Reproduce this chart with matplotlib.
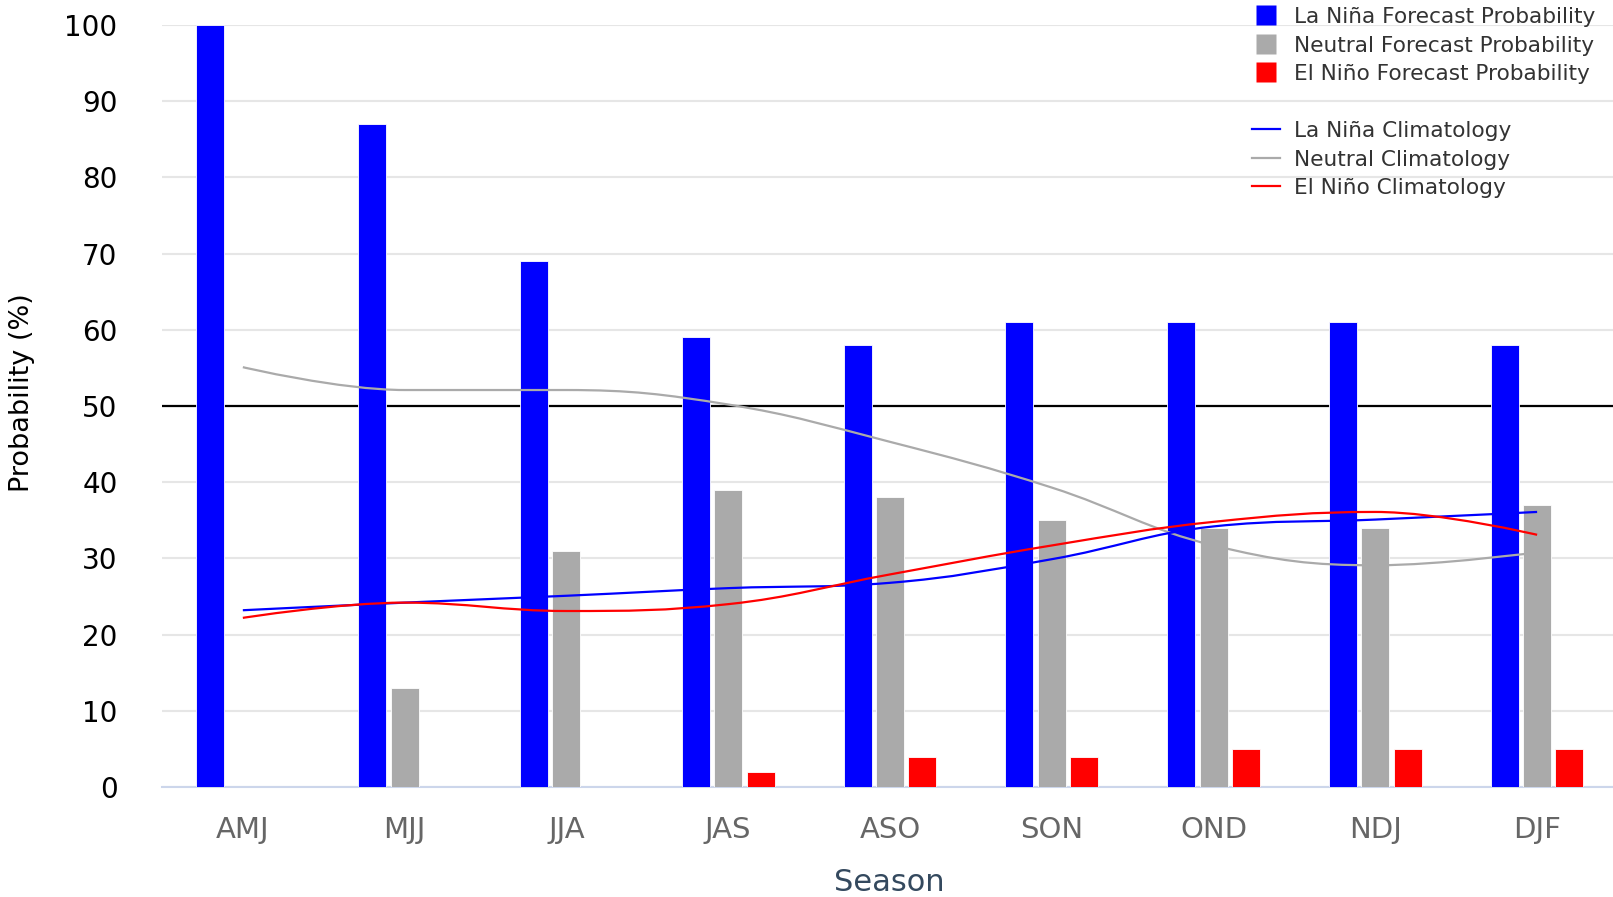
import matplotlib.pyplot as plt
from matplotlib.path import Path
from matplotlib.patches import PathPatch
from matplotlib.lines import Line2D
import numpy as np

seasons = ['AMJ', 'MJJ', 'JJA', 'JAS', 'ASO', 'SON', 'OND', 'NDJ', 'DJF']

# forecast probabilities (%)
lanina_fc = [100, 87, 69, 59, 58, 61, 61, 61, 58]
neutral_fc = [0, 13, 31, 39, 38, 35, 34, 34, 37]
elnino_fc = [0, 0, 0, 2, 4, 4, 5, 5, 5]

# climatology (%)
lanina_clim = [23.2, 24.2, 25.1, 26.1, 26.8, 29.9, 34.2, 35.1, 36.1]
neutral_clim = [55.1, 52.1, 52.1, 50.2, 45.3, 39.3, 31.7, 29.1, 30.8]
elnino_clim = [22.2, 24.2, 23.1, 24.0, 27.9, 31.7, 34.8, 36.1, 33.1]


def spline_path(xs, ys, smoothing=1.5):
    # Highcharts-style spline through the points, drawn as cubic beziers
    n = len(xs)
    left = [None] * n
    right = [None] * n
    for i in range(n):
        x, y = xs[i], ys[i]
        if i == 0 or i == n - 1:
            left[i] = (x, y)
            right[i] = (x, y)
            continue
        lx, ly = xs[i - 1], ys[i - 1]
        nx, ny = xs[i + 1], ys[i + 1]
        d = smoothing + 1
        lcx = (smoothing * x + lx) / d
        lcy = (smoothing * y + ly) / d
        rcx = (smoothing * x + nx) / d
        rcy = (smoothing * y + ny) / d
        if rcx != lcx:
            corr = (rcy - lcy) * (rcx - x) / (rcx - lcx) + y - rcy
            lcy += corr
            rcy += corr
        if lcy > ly and lcy > y:
            lcy = max(ly, y)
            rcy = 2 * y - lcy
        elif lcy < ly and lcy < y:
            lcy = min(ly, y)
            rcy = 2 * y - lcy
        if rcy > ny and rcy > y:
            rcy = max(ny, y)
            lcy = 2 * y - rcy
        elif rcy < ny and rcy < y:
            rcy = min(ny, y)
            lcy = 2 * y - rcy
        left[i] = (lcx, lcy)
        right[i] = (rcx, rcy)
    verts = [(xs[0], ys[0])]
    codes = [Path.MOVETO]
    for i in range(1, n):
        verts += [right[i - 1], left[i], (xs[i], ys[i])]
        codes += [Path.CURVE4] * 3
    return Path(verts, codes)


fig = plt.figure(figsize=(16.13, 8.97), dpi=100)
ax = fig.add_axes([0.1004, 0.1226, 0.9027, 0.8495])

x = np.arange(len(seasons))
w = 0.173
off = 0.2

ax.set_xlim(-0.5, 8.5)
ax.set_ylim(0, 100)

ax.yaxis.grid(True, color='#e6e6e6', linewidth=1.5, zorder=0)
ax.set_axisbelow(True)
ax.axhline(50, color='black', linewidth=1.6, zorder=1)

ax.bar(x - off, lanina_fc, w, color='#0000ff', edgecolor='white', linewidth=0.6, zorder=2)
ax.bar(x, neutral_fc, w, color='#aaaaaa', edgecolor='white', linewidth=0.6, zorder=2)
ax.bar(x + off, elnino_fc, w, color='#ff0000', edgecolor='white', linewidth=0.6, zorder=2)

for vals, col in [(neutral_clim, '#aaaaaa'), (lanina_clim, '#0000ff'), (elnino_clim, '#ff0000')]:
    p = spline_path(list(x), vals)
    ax.add_patch(PathPatch(p, facecolor='none', edgecolor=col, linewidth=1.6, zorder=3))

for s in ['top', 'right', 'left']:
    ax.spines[s].set_visible(False)
ax.spines['bottom'].set_color('#ccd6eb')
ax.spines['bottom'].set_linewidth(1.5)
ax.spines['bottom'].set_zorder(1.5)

ax.set_xticks(x)
ax.set_xticklabels(seasons)
ax.set_yticks(range(0, 101, 10))
ax.tick_params(axis='x', length=0, pad=21, labelsize=21, labelcolor='#666666')
ax.tick_params(axis='y', length=0, pad=32, labelsize=20, labelcolor='black')

fig.text(22 / 1613, 1 - 393 / 897, 'Probability (%)', rotation=90,
         ha='center', va='center', fontsize=19.5, color='black')
fig.text(889 / 1613, 1 - 882 / 897, 'Season', ha='center', va='center',
         fontsize=22, color='#34495e')

handles = [
    Line2D([], [], color='none', marker='s', markersize=14, markerfacecolor='#0000ff', markeredgecolor='none'),
    Line2D([], [], color='none', marker='s', markersize=14, markerfacecolor='#aaaaaa', markeredgecolor='none'),
    Line2D([], [], color='none', marker='s', markersize=14, markerfacecolor='#ff0000', markeredgecolor='none'),
    Line2D([], [], color='none'),
    Line2D([], [], color='#0000ff', linewidth=1.6),
    Line2D([], [], color='#aaaaaa', linewidth=1.6),
    Line2D([], [], color='#ff0000', linewidth=1.6),
]
labels = ['La Niña Forecast Probability', 'Neutral Forecast Probability',
          'El Niño Forecast Probability', ' ', 'La Niña Climatology',
          'Neutral Climatology', 'El Niño Climatology']
leg = fig.legend(handles, labels, loc='upper left', bbox_to_anchor=(1252 / 1613, 1 - 7 / 897),
                 frameon=False, fontsize=15.6, labelcolor='#333333', handlelength=1.3,
                 handleheight=0.9, handletextpad=0.65, labelspacing=0.37, borderpad=0,
                 borderaxespad=0)

fig.savefig('out.png', dpi=100)
